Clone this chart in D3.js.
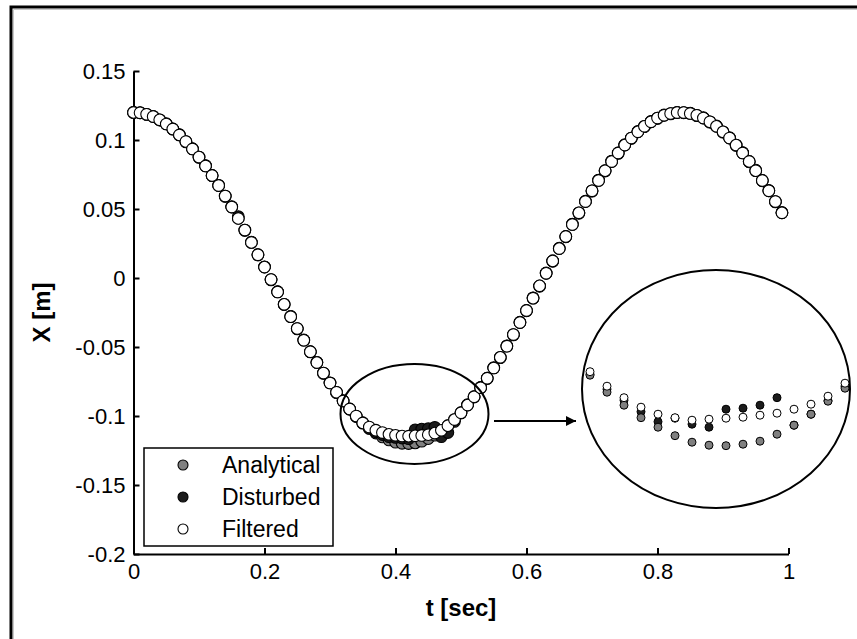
<!DOCTYPE html>
<html><head><meta charset="utf-8">
<script src="https://cdn.jsdelivr.net/npm/d3@7"></script>
<style>body{margin:0;background:#fff}svg{display:block}</style>
</head><body>
<script>
// ---- data ----
const tValues = [0,0.01,0.02,0.03,0.04,0.05,0.06,0.07,0.08,0.09,
0.1,0.11,0.12,0.13,0.14,0.15,0.16,0.17,0.18,0.19,
0.2,0.21,0.22,0.23,0.24,0.25,0.26,0.27,0.28,0.29,
0.3,0.31,0.32,0.33,0.34,0.35,0.36,0.37,0.38,0.39,
0.4,0.41,0.42,0.43,0.44,0.45,0.46,0.47,0.48,0.49,
0.5,0.51,0.52,0.53,0.54,0.55,0.56,0.57,0.58,0.59,
0.6,0.61,0.62,0.63,0.64,0.65,0.66,0.67,0.68,0.69,
0.7,0.71,0.72,0.73,0.74,0.75,0.76,0.77,0.78,0.79,
0.8,0.81,0.82,0.83,0.84,0.85,0.86,0.87,0.88,0.89,
0.9,0.91,0.92,0.93,0.94,0.95,0.96,0.97,0.98,0.99];

const analytical = [0.1200,0.1197,0.1186,0.1170,0.1146,0.1116,0.1080,0.1037,0.0989,0.0935,
0.0876,0.0812,0.0743,0.0670,0.0594,0.0514,0.0432,0.0347,0.0258,0.0169,
0.0079,-0.0011,-0.0101,-0.0191,-0.0280,-0.0366,-0.0451,-0.0534,-0.0613,-0.0689,
-0.0761,-0.0828,-0.0891,-0.0949,-0.1002,-0.1048,-0.1089,-0.1124,-0.1152,-0.1174,
-0.1190,-0.1198,-0.1200,-0.1195,-0.1183,-0.1164,-0.1139,-0.1108,-0.1070,-0.1026,
-0.0976,-0.0921,-0.0860,-0.0795,-0.0726,-0.0652,-0.0575,-0.0494,-0.0410,-0.0323,
-0.0235,-0.0146,-0.0057,0.0034,0.0124,0.0213,0.0301,0.0388,0.0472,0.0554,
0.0632,0.0707,0.0778,0.0844,0.0906,0.0963,0.1014,0.1059,0.1099,0.1132,
0.1159,0.1179,0.1192,0.1199,0.1199,0.1192,0.1179,0.1159,0.1132,0.1099,
0.1059,0.1014,0.0963,0.0906,0.0845,0.0778,0.0707,0.0632,0.0554,0.0472];

const disturbed = [0.1200,0.1199,0.1185,0.1172,0.1144,0.1118,0.1078,0.1040,0.0986,0.0937,
0.0874,0.0815,0.0741,0.0672,0.0591,0.0517,0.0445,0.0345,0.0260,0.0166,
0.0081,-0.0014,-0.0099,-0.0193,-0.0278,-0.0369,-0.0449,-0.0536,-0.0611,-0.0692,
-0.0759,-0.0831,-0.0889,-0.0952,-0.1004,-0.1052,-0.1090,-0.1115,-0.1135,-0.1150,
-0.1155,-0.1160,-0.1165,-0.1100,-0.1095,-0.1092,-0.1082,-0.1150,-0.1120,-0.1040,
-0.0979,-0.0918,-0.0863,-0.0792,-0.0729,-0.0649,-0.0578,-0.0491,-0.0413,-0.0320,
-0.0238,-0.0143,-0.0060,0.0037,0.0121,0.0216,0.0298,0.0391,0.0469,0.0557,
0.0629,0.0710,0.0775,0.0847,0.0903,0.0966,0.1011,0.1062,0.1096,0.1135,
0.1156,0.1182,0.1189,0.1201,0.1197,0.1195,0.1176,0.1162,0.1129,0.1102,
0.1056,0.1017,0.0960,0.0909,0.0842,0.0781,0.0704,0.0635,0.0551,0.0475];

const filtered = [0.1200,0.1197,0.1186,0.1170,0.1146,0.1116,0.1080,0.1037,0.0989,0.0935,
0.0876,0.0812,0.0743,0.0670,0.0594,0.0514,0.0432,0.0347,0.0258,0.0169,
0.0079,-0.0011,-0.0101,-0.0191,-0.0280,-0.0366,-0.0451,-0.0534,-0.0613,-0.0689,
-0.0761,-0.0828,-0.0891,-0.0949,-0.1000,-0.1050,-0.1080,-0.1103,-0.1120,-0.1133,
-0.1140,-0.1145,-0.1146,-0.1144,-0.1141,-0.1135,-0.1124,-0.1104,-0.1070,-0.1026,
-0.0976,-0.0921,-0.0860,-0.0795,-0.0726,-0.0652,-0.0575,-0.0494,-0.0410,-0.0323,
-0.0235,-0.0146,-0.0057,0.0034,0.0124,0.0213,0.0301,0.0388,0.0472,0.0554,
0.0632,0.0707,0.0778,0.0844,0.0906,0.0963,0.1014,0.1059,0.1099,0.1132,
0.1159,0.1179,0.1192,0.1199,0.1199,0.1192,0.1179,0.1159,0.1132,0.1099,
0.1059,0.1014,0.0963,0.0906,0.0845,0.0778,0.0707,0.0632,0.0554,0.0472];

// zoomed-in inset (magnified view around the minimum)
const insetT = [0.35,0.36,0.37,0.38,0.39,0.40,0.41,0.42,0.43,0.44,0.45,0.46,0.47,0.48,0.49,0.50];
const insetAnalytical = [-0.1059,-0.1093,-0.1119,-0.1144,-0.1163,-0.1180,-0.1193,-0.1199,-0.1200,-0.1197,-0.1191,-0.1177,-0.1159,-0.1137,-0.1111,-0.1085];
const insetDisturbed  = [-0.1057,-0.1087,-0.1109,-0.1132,-0.1152,-0.1145,-0.1157,-0.1163,-0.1127,-0.1125,-0.1119,-0.1104,-0.1159,-0.1137,-0.1110,-0.1081];
const insetFiltered   = [-0.1052,-0.1081,-0.1104,-0.1123,-0.1137,-0.1144,-0.1149,-0.1147,-0.1145,-0.1143,-0.1139,-0.1135,-0.1127,-0.1117,-0.1101,-0.1075];

const xTicks = [0,0.2,0.4,0.6,0.8,1];
const xTickLabels = ["0","0.2","0.4","0.6","0.8","1"];
const yTicks = [0.15,0.1,0.05,0,-0.05,-0.1,-0.15,-0.2];
const yTickLabels = ["0.15","0.1","0.05","0","-0.05","-0.1","-0.15","-0.2"];
const seriesNames = ["Analytical","Disturbed","Filtered"];
const seriesFill = ["#808080","#1c1c1c","#ffffff"];
const xLabel = "t [sec]";
const yLabel = "X [m]";

// ---- drawing ----
const W = 857, H = 639;
const font = "'Liberation Sans', Arial, sans-serif";
const svg = d3.select("body").append("svg").attr("width", W).attr("height", H);
svg.append("rect").attr("width", W).attr("height", H).attr("fill", "#fff");

// outer frame (only left/top visible)
svg.append("rect").attr("x", 11).attr("y", 7).attr("width", 1000).attr("height", 1000)
  .attr("fill", "none").attr("stroke", "#000").attr("stroke-width", 3);
svg.append("path").attr("d", "M13.5,700V9.5H900").attr("fill", "none").attr("stroke", "#c8c8c8").attr("stroke-width", 1);

const x = d3.scaleLinear().domain([0, 1]).range([133.5, 788.5]);
const y = d3.scaleLinear().domain([-0.2, 0.15]).range([554, 71]);

const series = [analytical, disturbed, filtered];

// axes
const yAxis = svg.append("g").attr("transform", `translate(${x(0)},0)`)
  .call(d3.axisLeft(y).tickValues(yTicks).tickFormat((d, i) => yTickLabels[i])
    .tickSizeInner(-6).tickSizeOuter(0).tickPadding(8));
const xAxis = svg.append("g").attr("transform", `translate(0,${y(-0.2)})`)
  .call(d3.axisBottom(x).tickValues(xTicks).tickFormat((d, i) => xTickLabels[i])
    .tickSizeInner(-6).tickSizeOuter(0).tickPadding(9));
[yAxis, xAxis].forEach(g => {
  g.select(".domain").attr("stroke", "#000").attr("stroke-width", 2);
  g.selectAll(".tick line").attr("stroke", "#000").attr("stroke-width", 2);
  g.selectAll(".tick text").attr("fill", "#000").style("font-family", font).style("font-size", "22px");
});

// main markers
[0, 1, 2].forEach(s => {
  svg.append("g").selectAll("circle").data(tValues).join("circle")
    .attr("cx", d => x(d))
    .attr("cy", (d, i) => y(series[s][i]))
    .attr("r", 5.8)
    .attr("fill", seriesFill[s])
    .attr("stroke", "#000").attr("stroke-width", 1.1);
});

// axis labels
svg.append("text").attr("x", (x(0) + x(1)) / 2).attr("y", 616).attr("text-anchor", "middle")
  .style("font-family", font).style("font-size", "24px").style("font-weight", "bold").text(xLabel);
svg.append("text").attr("transform", `translate(50,${(y(-0.2) + y(0.15)) / 2}) rotate(-90)`)
  .attr("text-anchor", "middle")
  .style("font-family", font).style("font-size", "24px").style("font-weight", "bold").text(yLabel);

// small ellipse around the minimum
svg.append("ellipse").attr("cx", x(0.429)).attr("cy", y(-0.0985)).attr("rx", 74).attr("ry", 50)
  .attr("fill", "none").attr("stroke", "#000").attr("stroke-width", 2);

// arrow
svg.append("defs").append("marker").attr("id", "ah").attr("viewBox", "0 0 10 10")
  .attr("refX", 10).attr("refY", 5).attr("markerWidth", 12).attr("markerHeight", 10)
  .attr("markerUnits", "userSpaceOnUse").attr("orient", "auto")
  .append("path").attr("d", "M0,0L10,5L0,10Z").attr("fill", "#000");
svg.append("line").attr("x1", 494).attr("y1", 421).attr("x2", 576).attr("y2", 421)
  .attr("stroke", "#000").attr("stroke-width", 1.8).attr("marker-end", "url(#ah)");

// inset
const xi = d3.scaleLinear().domain([0.35, 0.50]).range([590, 845]);
const yi = d3.scaleLinear().domain([-0.12, -0.095]).range([445.7, 320.7]);
svg.append("ellipse").attr("cx", 716).attr("cy", 389).attr("rx", 134).attr("ry", 119)
  .attr("fill", "#fff").attr("stroke", "#000").attr("stroke-width", 2);
const insetSeries = [insetDisturbed, insetAnalytical, insetFiltered];
const insetFill = [seriesFill[1], seriesFill[0], seriesFill[2]];
insetSeries.forEach((arr, s) => {
  svg.append("g").selectAll("circle").data(insetT).join("circle")
    .attr("cx", d => xi(d))
    .attr("cy", (d, i) => yi(arr[i]))
    .attr("r", 4)
    .attr("fill", insetFill[s])
    .attr("stroke", "#000").attr("stroke-width", 1);
});

// legend
const lg = svg.append("g");
lg.append("rect").attr("x", 144).attr("y", 448).attr("width", 189).attr("height", 98)
  .attr("fill", "#fff").attr("stroke", "#000").attr("stroke-width", 1.5);
const rowY = d3.scalePoint().domain(seriesNames).range([465, 529]);
seriesNames.forEach((n, i) => {
  lg.append("circle").attr("cx", 183).attr("cy", rowY(n)).attr("r", 5)
    .attr("fill", seriesFill[i]).attr("stroke", "#000").attr("stroke-width", 1.1);
  lg.append("text").attr("x", 222).attr("y", rowY(n) + 8)
    .style("font-family", font).style("font-size", "23px").text(n);
});
</script>
</body></html>
